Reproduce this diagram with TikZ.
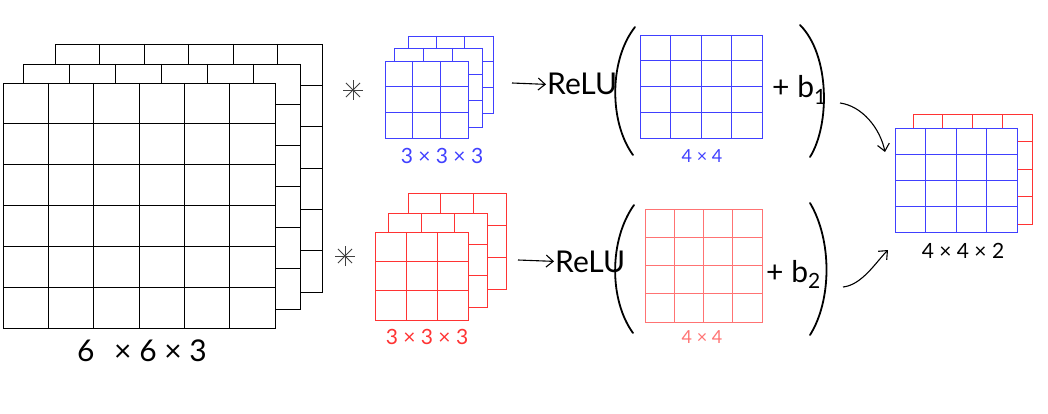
\documentclass[tikz,border=0pt]{standalone}
\usepackage{fontspec}
\setmainfont{Lato}
\usetikzlibrary{arrows.meta}

\colorlet{kblue}{blue!75}
\colorlet{kred}{red!80}
\colorlet{kpink}{red!55}

\newcommand{\gridlayer}[6]{%
  \filldraw[fill=white, draw=#1, gridline] (#2,#3) rectangle (#4,#5);
  \foreach \k in {1,...,#6} {
    \pgfmathsetmacro{\gx}{#2+(#4-#2)*\k/#6}
    \pgfmathsetmacro{\gy}{#3+(#5-#3)*\k/#6}
    \draw[#1, gridline] (\gx,#3) -- (\gx,#5);
    \draw[#1, gridline] (#2,\gy) -- (#4,\gy);
  }
}

\begin{document}
\begin{tikzpicture}[x=1pt, y=-1pt,
    gridline/.style={line width=0.9pt},
    spoke/.style={line width=0.9pt, black!75},
    paren/.style={line width=1.8pt, line cap=round},
    conn/.style={-{Straight Barb[length=7pt, width=12pt]}, line width=1.1pt},
    hand/.style={font=\fontsize{30}{30}\selectfont, inner sep=1pt},
    lbig/.style={font=\fontsize{30}{30}\selectfont, inner sep=1pt},
    lmid/.style={font=\fontsize{21}{21}\selectfont, inner sep=1pt},
    lsmall/.style={font=\fontsize{18}{18}\selectfont, inner sep=1pt}]
  \useasboundingbox (0,0) rectangle (1048,414);

  \gridlayer{black}{55}{44}{322}{292}{6}
  \gridlayer{black}{23}{64}{300}{309}{6}
  \gridlayer{black}{3}{83}{275}{328}{6}
  \node[lbig] (lab-in) at (142,351) {6\hspace{0.4em} × 6 × 3};

  \coordinate (star1) at (353,90);
  \coordinate (star2) at (345,256);
  \foreach \a in {0,45,90,135} {
    \draw[spoke, shift={(star1)}] (\a:10) -- (\a+180:10);
    \draw[spoke, shift={(star2)}] (\a:10) -- (\a+180:10);
  }

  \gridlayer{kblue}{408}{36}{493}{113}{3}
  \gridlayer{kblue}{394}{48}{482}{127}{3}
  \gridlayer{kblue}{385}{61}{468}{138}{3}
  \node[lmid, kblue] (lab-k1) at (442,156) {3 × 3 × 3};

  \gridlayer{kred}{408}{193}{506}{289}{3}
  \gridlayer{kred}{388}{213}{487}{307}{3}
  \gridlayer{kred}{375}{232}{468}{320}{3}
  \node[lmid, kred] (lab-k2) at (427,337) {3 × 3 × 3};

  \node[hand, anchor=base west] (relu1) at (546,95) {ReLU};
  \node[hand, anchor=base west] (relu2) at (554,272) {ReLU};
  \coordinate (a1) at (512,83);
  \coordinate (a2) at (518,260);
  \draw[conn] (a1) -- (relu1.west);
  \draw[conn] (a2) -- (relu2.west);

  \draw[paren] (635,27) .. controls (609,60) and (609,122) .. (633,155);
  \draw[paren] (800,25) .. controls (830,55) and (830,125) .. (810,157);
  \draw[paren] (634,205) .. controls (609,240) and (609,300) .. (633,333);
  \draw[paren] (810,203) .. controls (832,240) and (832,300) .. (810,335);

  \gridlayer{kblue}{640}{35}{762}{138}{4}
  \node[lsmall, kblue] (lab-o1) at (702,156) {4 × 4};
  \gridlayer{kpink}{645}{209}{762}{322}{4}
  \node[lsmall, kpink] (lab-o2) at (702,337) {4 × 4};

  \node[hand, anchor=base west] (bias1) at (771,98) {+ b\textsubscript{1}};
  \node[hand, anchor=base west] (bias2) at (765,282) {+ b\textsubscript{2}};

  \gridlayer{kred}{913}{114}{1032}{224}{4}
  \gridlayer{kblue}{895}{128}{1017}{232}{4}
  \node[lmid] (lab-out) at (963,251) {4 × 4 × 2};

  \coordinate (c1) at (840,103);
  \coordinate (c2) at (885,152);
  \coordinate (d1) at (843,287);
  \coordinate (d2) at (888,250);
  \draw[conn] (c1) .. controls (862,106) and (880,128) .. (c2);
  \draw[conn] (d1) .. controls (862,285) and (876,262) .. (d2);
\end{tikzpicture}
\end{document}
